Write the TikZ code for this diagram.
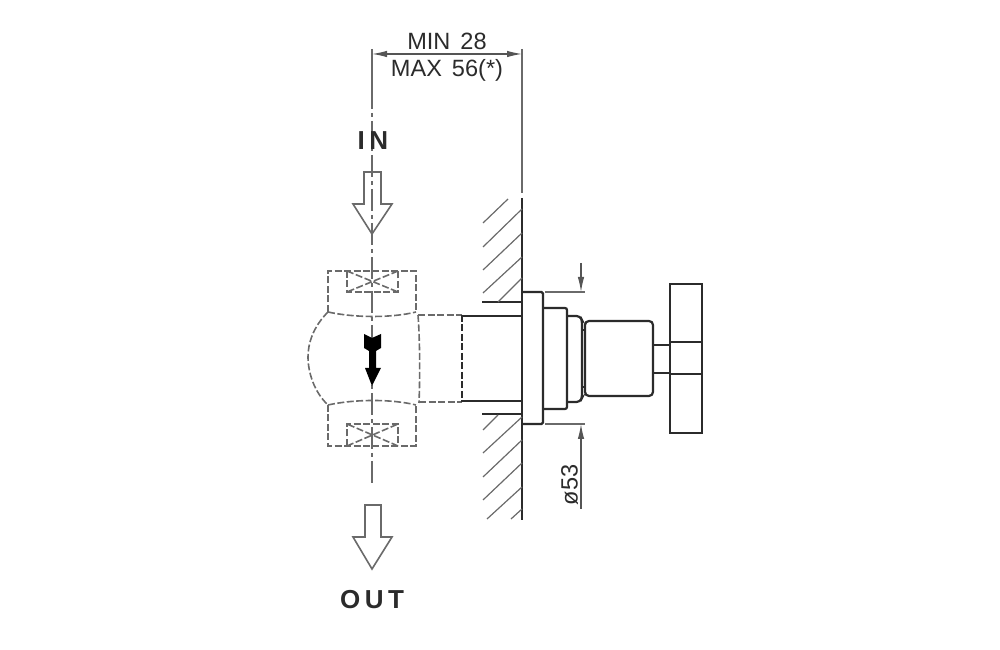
\documentclass[tikz,border=0pt]{standalone}
\usepackage{fontspec}
\setmainfont{Liberation Sans}
\usetikzlibrary{arrows.meta}
\tikzset{>={Latex[length=1.5mm,width=0.65mm]}}
\definecolor{ink}{HTML}{2B2B2B}
\definecolor{soft}{HTML}{6A6A6A}
\tikzstyle{thin line} = [draw=soft, line width=0.12mm]
\tikzstyle{dim line} = [draw=ink!80, line width=0.12mm]
\tikzstyle{body line} = [draw=ink, line width=0.22mm]
\tikzstyle{wall line} = [draw=ink, line width=0.28mm]
\tikzstyle{hidden line} = [draw=soft, line width=0.16mm, dash pattern=on 0.7mm off 0.25mm]
\tikzstyle{axis line} = [draw=soft, line width=0.12mm, dash pattern=on 2.2mm off 0.4mm on 0.4mm off 0.4mm]
\tikzstyle{flow arrow} = [draw=soft, line width=0.16mm, fill=white, line join=miter]
\tikzstyle{dim text} = [inner sep=0pt, text=ink, font=\fontsize{6.7pt}{6.7pt}\selectfont]
\tikzstyle{flow text} = [inner sep=0pt, text=ink, font=\fontsize{7.4pt}{7.4pt}\selectfont\bfseries]

\begin{document}
\begin{tikzpicture}[x=0.1mm,y=-0.1mm]
\useasboundingbox (0,0) rectangle (1000,650);
    % centre line and witness lines
    \coordinate (axtop) at (372,49);
    \coordinate (axmid) at (372,87);
    \coordinate (axend) at (372,485);
    \coordinate (wittop) at (522,49);
    \coordinate (witend) at (522,193);
    \draw[thin line] (axtop) to (axmid);
    \draw[axis line] (axmid) to (axend);
    \draw[thin line] (wittop) to (witend);
    % top dimension
    \coordinate (dl) at (372,54);
    \coordinate (dr) at (522,54);
    \draw[dim line,<->] (dl) to (dr);
    \node[dim text,anchor=base] (dimmin) at (447,50) {MIN\hspace{1mm}28};
    \node[dim text,anchor=base] (dimmax) at (447,77) {MAX\hspace{1mm}56(*)};
    % flow labels and arrows
    \node[flow text,anchor=base] (intext) at (373,150) {I\hspace{0.45mm}N};
    \node[flow text,anchor=base] (outtext) at (372,609) {O\hspace{0.45mm}U\hspace{0.45mm}T};
    \draw[flow arrow,fill=none] (364,172) -- (381,172) -- (381,204) -- (392,204)
        -- (372,234) -- (353,204) -- (364,204) -- cycle;
    \draw[flow arrow] (365,505) -- (381,505) -- (381,537) -- (392,537)
        -- (372,569) -- (353,537) -- (365,537) -- cycle;
    % valve body, hidden
    \draw[hidden line] (328,312) -- (328,271) -- (416,271) -- (416,312);
    \draw[hidden line] (347,271) -- (347,292) -- (398,292) -- (398,271);
    \draw[hidden line] (347,271) -- (398,292) (398,271) -- (347,292);
    \draw[hidden line] (328,405) -- (328,446) -- (416,446) -- (416,405);
    \draw[hidden line] (347,446) -- (347,424) -- (398,424) -- (398,446);
    \draw[hidden line] (347,446) -- (398,424) (398,446) -- (347,424);
    \draw[hidden line] (328,312) .. controls (312,328) and (308,345) .. (308,357)
        .. controls (308,372) and (314,392) .. (328,405);
    \draw[hidden line] (328,312) .. controls (355,318) and (392,318) .. (416,312);
    \draw[hidden line] (328,405) .. controls (355,399) and (392,399) .. (416,405);
    \draw[hidden line] (418,315) .. controls (420,340) and (420,378) .. (419,403);
    \draw[hidden line] (418,315) -- (462,315);
    \draw[hidden line] (419,402) -- (462,402);
    \draw[hidden line,draw=ink] (462,315) -- (462,402);
    % check arrow
    \fill[black] (364,334) -- (372,338) -- (381,334) -- (381,348) -- (376,351)
        -- (376,368) -- (381,368) -- (372,386) -- (365,368) -- (369,368)
        -- (369,351) -- (364,348) -- cycle;
    % wall
    \draw[wall line] (522,198) -- (522,520);
    \draw[body line] (482,302) -- (522,302);
    \draw[body line] (482,414) -- (522,414);
    \draw[body line] (462,316) -- (522,316);
    \draw[body line] (462,401) -- (522,401);
    % hatching above
    \foreach \xa/\ya/\xb/\yb in {483/223/508/199, 483/247/522/209, 483/270/522/233,
        483/293/522/257, 498/302/522/278}
    {\draw[thin line] (\xa,\ya) -- (\xb,\yb);}
    % hatching below
    \foreach \xa/\ya/\xb/\yb in {483/430/498/415, 483/453/522/417, 483/477/522/440,
        483/500/522/463, 487/519/522/487, 511/519/522/509}
    {\draw[thin line] (\xa,\ya) -- (\xb,\yb);}
    % rosette and knob
    \draw[body line,rounded corners=0.15mm] (522,292) -- (543,292) -- (543,424) -- (522,424);
    \draw[body line,rounded corners=0.2mm] (543,308) -- (567,308) -- (567,409) -- (543,409);
    \draw[body line,rounded corners=0.35mm] (567,316) -- (580,316) -- (582,320) -- (582,398)
        -- (580,402) -- (567,402);
    \draw[body line] (582,330) -- (585,330) (582,387) -- (585,387);
    \draw[body line,rounded corners=0.4mm] (585,321) -- (653,321) -- (653,396) -- (585,396) -- cycle;
    \draw[body line] (653,345) -- (670,345) (653,373) -- (670,373);
    \draw[body line] (670,284) rectangle (702,433);
    \draw[body line] (670,342) -- (702,342) (670,374) -- (702,374);
    % diameter dimension
    \coordinate (exta) at (545,292);
    \coordinate (extb) at (585,292);
    \coordinate (extc) at (545,424);
    \coordinate (extd) at (585,424);
    \coordinate (dima) at (581,263);
    \coordinate (dimb) at (581,292);
    \coordinate (dimc) at (581,509);
    \coordinate (dimd) at (581,424);
    \draw[thin line] (exta) to (extb);
    \draw[thin line] (extc) to (extd);
    \draw[dim line,->] (dima) to (dimb);
    \draw[dim line,->] (dimc) to (dimd);
    \node[dim text,rotate=90] (dimdia) at (569.5,485) {ø53};
\end{tikzpicture}
\end{document}
